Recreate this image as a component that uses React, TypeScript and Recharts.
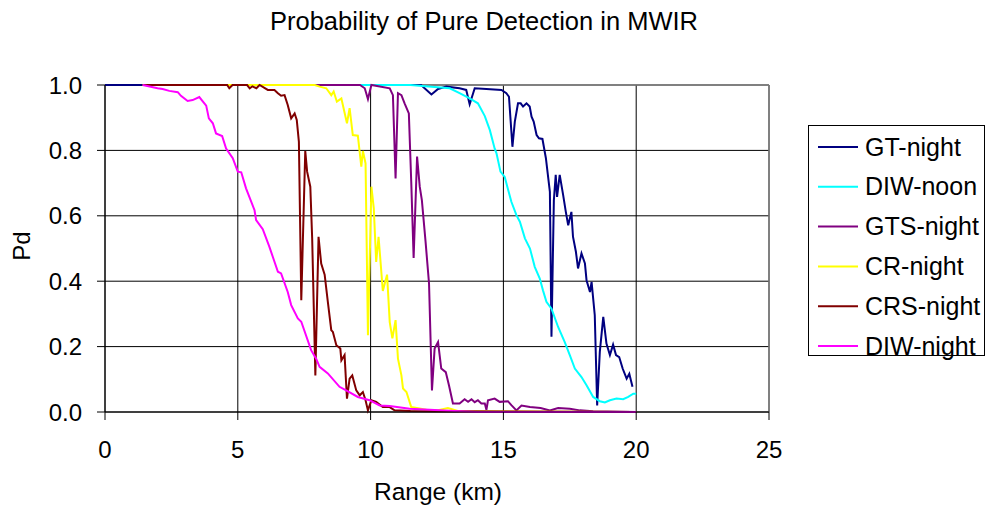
import React from "react";
import {
  CartesianGrid,
  Line,
  LineChart,
  ReferenceLine,
  XAxis,
  YAxis,
} from "recharts";

type Pt = [number, number];

// range (km), Pd
const gtNight: Pt[] = [
  [0, 1], [11.9, 1], [12.29, 0.971], [12.54, 0.988], [12.85, 0.995], [13.35, 0.99],
  [13.6, 0.985], [13.73, 0.941], [13.92, 0.99], [14.36, 0.988], [14.93, 0.985],
  [15.11, 0.975], [15.21, 0.964], [15.34, 0.811], [15.43, 0.888], [15.55, 0.944],
  [15.65, 0.944], [15.74, 0.934], [15.87, 0.944], [15.99, 0.934], [16.06, 0.903],
  [16.14, 0.888], [16.25, 0.847], [16.34, 0.837], [16.47, 0.835], [16.6, 0.776],
  [16.75, 0.673], [16.81, 0.23], [16.9, 0.648], [16.97, 0.725], [17.02, 0.658],
  [17.12, 0.725], [17.25, 0.663], [17.35, 0.612], [17.44, 0.571], [17.56, 0.612],
  [17.62, 0.536], [17.73, 0.49], [17.81, 0.439], [17.94, 0.485], [18.07, 0.454],
  [18.13, 0.403], [18.26, 0.367], [18.32, 0.398], [18.44, 0.296], [18.53, 0.02],
  [18.63, 0.184], [18.76, 0.291], [18.88, 0.209], [19.01, 0.174], [19.13, 0.206],
  [19.24, 0.174], [19.36, 0.168], [19.49, 0.133], [19.64, 0.102], [19.74, 0.117],
  [19.86, 0.077],
];

const diwNoon: Pt[] = [
  [1.42, 1], [11.5, 1], [12.98, 0.99], [13.35, 0.975], [13.73, 0.959], [14.04, 0.944],
  [14.3, 0.905], [14.49, 0.862], [14.67, 0.806], [14.74, 0.791], [14.89, 0.735],
  [15.05, 0.719], [15.18, 0.679], [15.3, 0.643], [15.49, 0.602], [15.62, 0.582],
  [15.81, 0.531], [16.0, 0.5], [16.18, 0.444], [16.37, 0.408], [16.49, 0.372],
  [16.62, 0.337], [16.81, 0.316], [17.06, 0.26], [17.31, 0.214], [17.5, 0.174],
  [17.69, 0.133], [17.94, 0.107], [18.13, 0.082], [18.38, 0.046], [18.63, 0.033],
  [18.82, 0.029], [19.01, 0.036], [19.26, 0.041], [19.51, 0.039], [19.7, 0.046],
  [19.89, 0.056], [20.0, 0.056],
];

const gtsNight: Pt[] = [
  [1.42, 1], [9.6, 1], [9.78, 0.99], [9.9, 0.957], [10.03, 1], [10.72, 0.99],
  [10.84, 0.969], [10.94, 0.714], [11.03, 0.975], [11.16, 0.969], [11.28, 0.944],
  [11.44, 0.913], [11.53, 0.704], [11.62, 0.471], [11.75, 0.781], [11.85, 0.689],
  [11.93, 0.648], [12.07, 0.52], [12.2, 0.393], [12.31, 0.066], [12.41, 0.194],
  [12.54, 0.214], [12.66, 0.133], [12.83, 0.122], [12.95, 0.082], [13.1, 0.026],
  [13.35, 0.026], [13.54, 0.039], [13.67, 0.031], [13.8, 0.039], [13.92, 0.03],
  [14.04, 0.036], [14.17, 0.026], [14.3, 0.026], [14.36, 0.007], [14.42, 0.036],
  [14.67, 0.041], [14.86, 0.031], [15.17, 0.033], [15.3, 0.021], [15.49, 0.005],
  [15.68, 0.02], [16.0, 0.015], [16.4, 0.012], [16.75, 0.005], [17.06, 0.012],
  [17.5, 0.01], [17.88, 0.005], [18.38, 0.002], [20, 0],
];

const crNight: Pt[] = [
  [1.42, 1], [7.9, 1], [8.08, 0.995], [8.33, 0.99], [8.52, 0.969], [8.61, 0.98],
  [8.73, 0.949], [8.9, 0.959], [9.11, 0.883], [9.21, 0.929], [9.33, 0.847],
  [9.52, 0.845], [9.65, 0.75], [9.71, 0.798], [9.81, 0.76], [9.9, 0.235],
  [10.03, 0.689], [10.12, 0.623], [10.21, 0.459], [10.3, 0.536], [10.46, 0.37],
  [10.62, 0.42], [10.72, 0.275], [10.82, 0.225], [10.94, 0.281], [11.03, 0.163],
  [11.16, 0.112], [11.22, 0.072], [11.35, 0.061], [11.53, 0.015], [12.1, 0.007],
  [12.5, 0.005], [12.91, 0.012], [13.35, 0.002], [20, 0],
];

const crsNight: Pt[] = [
  [1.42, 1], [4.6, 1], [4.68, 0.99], [4.8, 1], [5.35, 1], [5.45, 0.99], [5.55, 0.996],
  [5.7, 0.99], [5.82, 1], [6.13, 0.985], [6.38, 0.985], [6.51, 0.975], [6.63, 0.967],
  [6.76, 0.969], [6.88, 0.939], [7.01, 0.898], [7.14, 0.913], [7.22, 0.893],
  [7.3, 0.826], [7.39, 0.342], [7.54, 0.798], [7.61, 0.735], [7.73, 0.689],
  [7.8, 0.531], [7.92, 0.112], [8.04, 0.536], [8.14, 0.454], [8.27, 0.42],
  [8.39, 0.337], [8.52, 0.25], [8.58, 0.245], [8.71, 0.204], [8.86, 0.194],
  [8.9, 0.158], [9.02, 0.174], [9.11, 0.041], [9.21, 0.102], [9.31, 0.112],
  [9.46, 0.066], [9.59, 0.051], [9.71, 0.061], [9.81, 0.036], [9.9, 0.005],
  [10.03, 0.036], [10.21, 0.031], [10.46, 0.015], [10.72, 0.015], [10.9, 0.005],
  [11.5, 0.003], [12.5, 0.002], [20, 0],
];

const diwNight: Pt[] = [
  [1.42, 1], [1.98, 0.99], [2.17, 0.988], [2.42, 0.982], [2.74, 0.978], [2.86, 0.967],
  [3.11, 0.951], [3.3, 0.954], [3.55, 0.963], [3.81, 0.937], [3.91, 0.898],
  [4.06, 0.883], [4.18, 0.852], [4.41, 0.844], [4.56, 0.806], [4.81, 0.776],
  [5.0, 0.735], [5.13, 0.733], [5.31, 0.684], [5.63, 0.617], [5.69, 0.587],
  [5.94, 0.559], [6.19, 0.505], [6.32, 0.474], [6.51, 0.429], [6.63, 0.424],
  [6.88, 0.367], [7.01, 0.327], [7.26, 0.286], [7.39, 0.276], [7.76, 0.189],
  [7.95, 0.163], [8.08, 0.138], [8.39, 0.118], [8.83, 0.077], [9.08, 0.066],
  [9.52, 0.046], [9.96, 0.036], [10.34, 0.02], [10.72, 0.018], [11.47, 0.01],
  [13.35, 0.002], [14, 0], [20, 0],
];

const xTicks = [0, 5, 10, 15, 20, 25];
const yTicks = [0, 0.2, 0.4, 0.6, 0.8, 1.0];

const series = [
  { name: "GT-night", color: "#000080", pts: gtNight },
  { name: "DIW-noon", color: "#00FFFF", pts: diwNoon },
  { name: "GTS-night", color: "#800080", pts: gtsNight },
  { name: "CR-night", color: "#FFFF00", pts: crNight },
  { name: "CRS-night", color: "#800000", pts: crsNight },
  { name: "DIW-night", color: "#FF00FF", pts: diwNight },
];

const font = "'Liberation Sans', Arial, sans-serif";

const toRows = (pts: Pt[]) => pts.map(([x, y]) => ({ x, y }));

export default function App() {
  return (
    <div
      style={{
        position: "absolute",
        left: 0,
        top: 0,
        width: 987,
        height: 508,
        background: "#fff",
        fontFamily: font,
      }}
    >
      <LineChart
        width={987}
        height={508}
        margin={{ top: 85, right: 218, left: 0, bottom: 0 }}
      >
        <CartesianGrid stroke="#000" strokeWidth={1} />
        <XAxis
          dataKey="x"
          type="number"
          domain={[0, 25]}
          ticks={xTicks}
          height={96}
          tickSize={8}
          tickMargin={21}
          stroke="#000"
          tick={{ fill: "#000", fontSize: 24, fontFamily: font }}
        />
        <YAxis
          type="number"
          domain={[0, 1]}
          ticks={yTicks}
          width={105}
          tickSize={8}
          tickMargin={15}
          stroke="#000"
          tickFormatter={(v: number) => v.toFixed(1)}
          tick={{ fill: "#000", fontSize: 24, fontFamily: font }}
        />
        <ReferenceLine y={1} stroke="#808080" strokeWidth={1.5} />
        <ReferenceLine x={25} stroke="#808080" strokeWidth={1.5} />
        {series.map((s) => (
          <Line
            key={s.name}
            name={s.name}
            data={toRows(s.pts)}
            dataKey="y"
            type="linear"
            stroke={s.color}
            strokeWidth={2}
            dot={false}
            activeDot={false}
            isAnimationActive={false}
          />
        ))}
      </LineChart>
      <svg
        width={987}
        height={508}
        style={{ position: "absolute", left: 0, top: 0, pointerEvents: "none" }}
        fontFamily={font}
      >
        <text x={484} y={30} textAnchor="middle" fontSize={25.5} fill="#000">
          Probability of Pure Detection in MWIR
        </text>
        <text
          transform="translate(30,246) rotate(-90)"
          textAnchor="middle"
          fontSize={24}
          fill="#000"
        >
          Pd
        </text>
        <text x={438} y={500} textAnchor="middle" fontSize={24.5} fill="#000">
          Range (km)
        </text>
        <rect x={808.5} y={125.5} width={176} height={230} fill="#fff" stroke="#000" />
        {series.map((s, i) => {
          const cy = 147 + i * 39.8;
          return (
            <g key={s.name}>
              <line x1={818} x2={858} y1={cy} y2={cy} stroke={s.color} strokeWidth={2} />
              <text x={865} y={cy + 8.5} fontSize={25} fill="#000">
                {s.name}
              </text>
            </g>
          );
        })}
      </svg>
    </div>
  );
}
